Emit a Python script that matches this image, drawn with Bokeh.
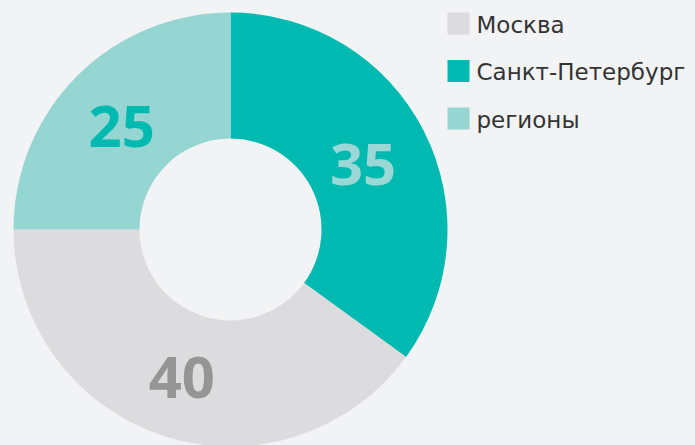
import math
from bokeh.plotting import figure
from bokeh.models import Range1d, ColumnDataSource
from bokeh.core.properties import value
from bokeh.embed import file_html
from bokeh.resources import INLINE

# data
categories = ["Москва", "Санкт-Петербург", "регионы"]
values = [40, 35, 25]
colors = ["#dcdcde", "#00b9b1", "#95d6d3"]
label_colors = ["#959595", "#9bd8d5", "#00b9b1"]
draw_order = ["Санкт-Петербург", "Москва", "регионы"]  # clockwise from top

BG = "#f2f3f5"
CX, CY = 230, -229
R_OUT, R_IN = 217, 91
R_LAB = 151

p = figure(width=695, height=445, x_range=Range1d(0, 695), y_range=Range1d(-445, 0),
           output_backend="svg", toolbar_location=None, min_border=0,
           background_fill_color=BG, border_fill_color=BG)
p.axis.visible = False
p.grid.visible = False
p.outline_line_color = None

total = sum(values)
angle = 90.0
ws, we, cols, lx, ly, ltxt, lcol = [], [], [], [], [], [], []
for name in draw_order:
    i = categories.index(name)
    span = values[i] / total * 360.0
    end = angle
    start = angle - span
    ws.append(math.radians(start))
    we.append(math.radians(end))
    cols.append(colors[i])
    mid = math.radians((start + end) / 2)
    lx.append(CX + R_LAB * math.cos(mid))
    ly.append(CY + R_LAB * math.sin(mid))
    ltxt.append(str(values[i]))
    lcol.append(label_colors[i])
    angle = start

src = ColumnDataSource(dict(x=[CX] * 3, y=[CY] * 3, s=ws, e=we, c=cols))
p.annular_wedge(x="x", y="y", inner_radius=R_IN, outer_radius=R_OUT,
                start_angle="s", end_angle="e", fill_color="c", line_color=None, source=src)

lsrc = ColumnDataSource(dict(x=lx, y=ly, t=ltxt, c=lcol))
p.text(x="x", y="y", text="t", text_color="c", source=lsrc,
       text_font=value("Open Sans"), text_font_style="bold", text_font_size="58px",
       text_align="center", text_baseline="middle", y_offset=4, x_offset=-2)

# legend
leg_x = 458
leg_y = [-23 - 47.5 * i for i in range(len(categories))]
p.scatter(x=[leg_x] * 3, y=leg_y, marker="square", size=22, fill_color=colors, line_color=None)
p.text(x=[476] * 3, y=leg_y, text=categories, text_color="#333333",
       text_font=value("DejaVu Sans"), text_font_size="23px",
       text_align="left", text_baseline="middle", y_offset=1)

html = file_html(p, INLINE)
html = html.replace("</head>", "<style>html,body{background:%s;}</style></head>" % BG, 1)
open("out.html", "w").write(html)
